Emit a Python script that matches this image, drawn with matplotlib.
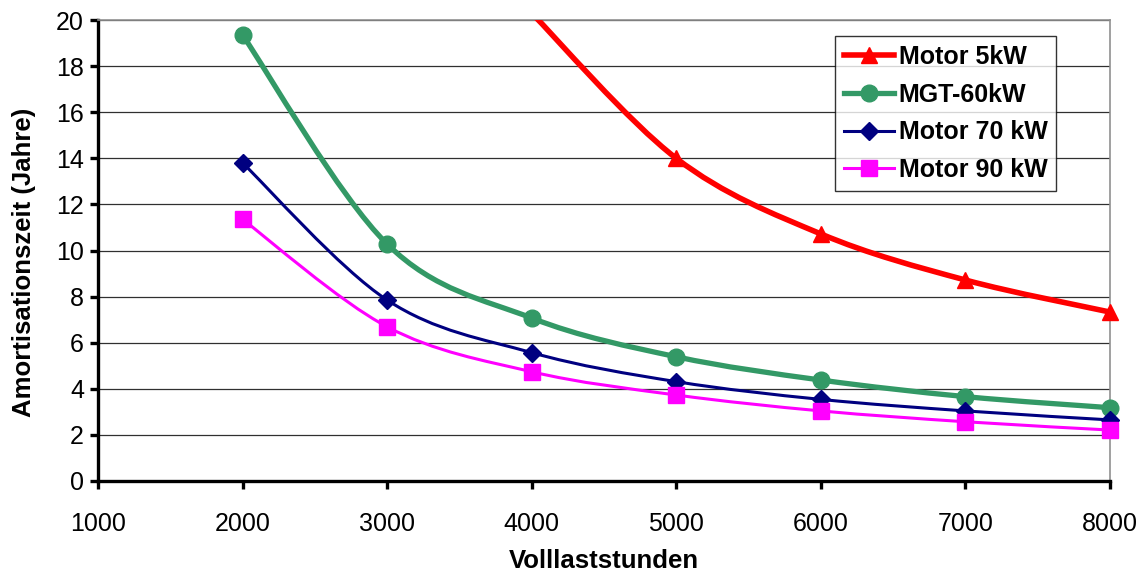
import numpy as np
import matplotlib
matplotlib.use("Agg")
import matplotlib.pyplot as plt
from matplotlib.path import Path
from matplotlib.patches import PathPatch
from matplotlib.lines import Line2D

plt.rcParams['font.family'] = ['Liberation Sans', 'DejaVu Sans']

hours = [2000, 3000, 4000, 5000, 6000, 7000, 8000]
motor5_hours = [4000, 5000, 6000, 7000, 8000]
motor5 = [20.3, 14.0, 10.72, 8.72, 7.33]
mgt60 = [19.35, 10.28, 7.07, 5.39, 4.38, 3.66, 3.18]
motor70 = [13.8, 7.85, 5.57, 4.31, 3.54, 3.04, 2.65]
motor90 = [11.35, 6.69, 4.74, 3.73, 3.04, 2.57, 2.21]

series = [
    ("Motor 5kW", motor5_hours, motor5, '#FF0000', '^', 4.0, 12),
    ("MGT-60kW", hours, mgt60, '#339966', 'o', 3.8, 12),
    ("Motor 70 kW", hours, motor70, '#000080', 'D', 2.2, 9),
    ("Motor 90 kW", hours, motor90, '#FF00FF', 's', 2.2, 11),
]

fig = plt.figure(figsize=(11.41, 5.73), dpi=100)
ax = fig.add_axes([0.0859, 0.1606, 0.8869, 0.8044])
ax.set_xlim(1000, 8000)
ax.set_ylim(0, 20)


def smooth_path(x, y):
    x = np.asarray(x, float)
    y = np.asarray(y, float)
    pts = np.column_stack([x, y])
    n = len(pts)
    verts = [pts[0]]
    codes = [Path.MOVETO]
    for i in range(n - 1):
        p0 = pts[i - 1] if i > 0 else pts[i]
        p1 = pts[i]
        p2 = pts[i + 1]
        p3 = pts[i + 2] if i + 2 < n else pts[i + 1]
        c1 = p1 + (p2 - p0) / 6.0
        c2 = p2 - (p3 - p1) / 6.0
        verts += [c1, c2, p2]
        codes += [Path.CURVE4] * 3
    return Path(verts, codes)


handles = []
for name, xs, ys, col, mk, lw, ms in series:
    patch = PathPatch(smooth_path(xs, ys), facecolor='none', edgecolor=col,
                      lw=lw, zorder=3, capstyle='round', joinstyle='round')
    ax.add_patch(patch)
    vis = [i for i, v in enumerate(ys) if v <= 20]
    ax.plot(xs, ys, linestyle='none', marker=mk, markersize=ms, color=col,
            markevery=vis, zorder=4, clip_on=False)
    handles.append(Line2D([], [], color=col, lw=lw, marker=mk, markersize=ms))

ax.set_yticks(np.arange(0, 21, 2))
ax.set_xticks(np.arange(1000, 8001, 1000))
ax.grid(axis='y', color='#303030', lw=0.9, zorder=1)
ax.set_axisbelow(True)

for s in ['left', 'bottom']:
    ax.spines[s].set_linewidth(2.4)
    ax.spines[s].set_color('black')
for s in ['top', 'right']:
    ax.spines[s].set_linewidth(1.2)
    ax.spines[s].set_color('#909090')

ax.tick_params(axis='both', direction='out', length=6, width=2.4,
               labelsize=18, colors='black')
ax.tick_params(axis='x', pad=16)
ax.tick_params(axis='y', pad=4)

fig.text(604 / 1141, 5 / 573, 'Volllaststunden', fontsize=18.5,
         fontweight='bold', ha='center', va='baseline')
fig.text(24 / 1141, 1 - 262 / 573, 'Amortisationszeit (Jahre)', fontsize=18.5,
         fontweight='bold', ha='center', va='center', rotation=90)

leg = ax.legend(handles, [s[0] for s in series], loc='upper right',
                bbox_to_anchor=(0.947, 0.965), frameon=True, fancybox=False,
                prop={'size': 18, 'weight': 'bold'}, handlelength=2.0,
                handletextpad=0.2, borderpad=0.35, labelspacing=0.55,
                borderaxespad=0)
leg.get_frame().set_edgecolor('black')
leg.get_frame().set_linewidth(1.0)

fig.savefig('out.png', dpi=100)
